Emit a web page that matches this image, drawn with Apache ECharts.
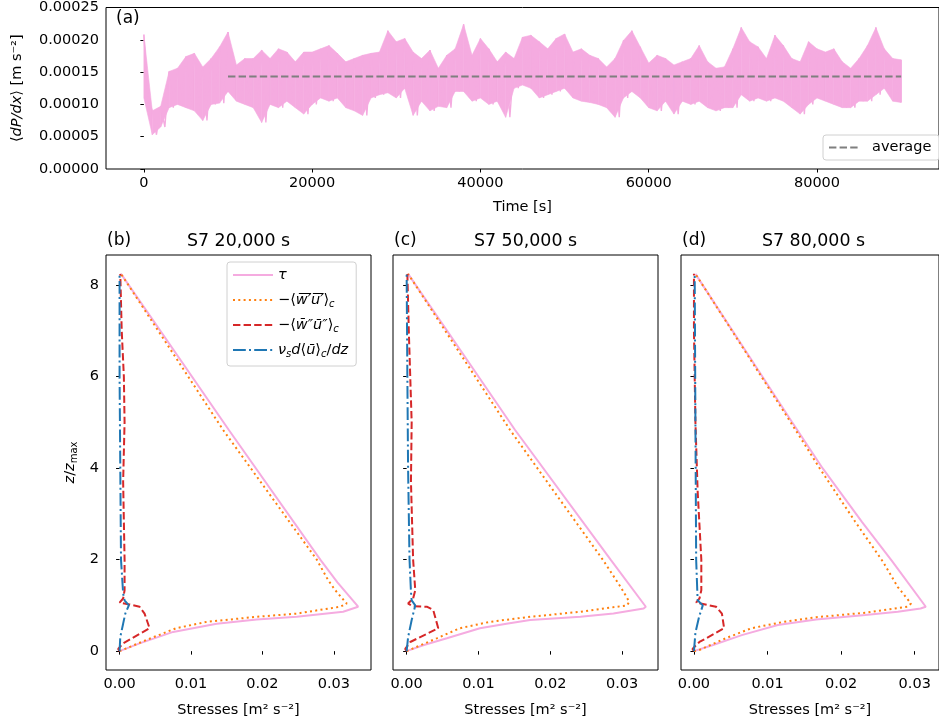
<!DOCTYPE html>
<html>
<head>
<meta charset="utf-8">
<script src="https://cdn.jsdelivr.net/npm/echarts@6/dist/echarts.min.js"></script>
<style>
  html, body { margin: 0; padding: 0; background: #fff; }
  #chart { width: 939px; height: 725px; }
</style>
</head>
<body>
<div id="chart"></div>
<script>
// ---- (a) mean pressure gradient time series -------------------------------
// Envelope of the trace, one upper and one lower value per 1000 s, in 1e-5 m s^-2.
const sampleStep = 1000;
const dpdxHigh = [
  20.8, 9.0, 9.7, 15.1, 15.6, 17.4, 17.9, 15.8, 17.1, 18.9,
  21.2, 16.1, 17.1, 17.1, 18.4, 17.1, 18.6, 18.1, 16.6, 18.1,
  18.1, 18.6, 19.1, 17.9, 16.6, 17.1, 17.6, 17.9, 18.1, 21.4,
  19.7, 20.2, 18.1, 17.1, 18.4, 15.6, 17.6, 18.6, 22.4, 17.6,
  20.2, 18.6, 16.6, 18.1, 17.1, 20.4, 20.7, 19.7, 18.6, 20.2,
  20.9, 18.1, 18.6, 17.6, 17.1, 15.8, 17.1, 19.9, 21.4, 18.9,
  16.4, 17.6, 17.1, 16.1, 16.6, 17.1, 19.1, 16.6, 15.6, 15.8,
  18.6, 21.9, 19.7, 18.9, 17.1, 20.7, 19.1, 17.1, 16.6, 19.7,
  18.6, 18.1, 18.6, 16.6, 15.6, 17.1, 19.1, 21.9, 18.6, 17.1,
  16.9
];
const dpdxLow = [
  11.0, 5.3, 6.5, 9.5, 10.0, 9.5, 9.0, 7.5, 10.0, 10.2,
  12.0, 10.5, 10.0, 9.5, 7.2, 10.0, 9.5, 10.5, 9.5, 8.5,
  10.0, 11.0, 10.5, 11.0, 9.5, 9.0, 8.3, 11.0, 11.5, 11.8,
  11.0, 12.5, 8.3, 10.5, 9.0, 9.7, 9.5, 12.0, 12.0, 10.5,
  11.0, 10.0, 10.5, 8.0, 12.5, 13.0, 12.5, 11.0, 11.5, 12.0,
  12.5, 11.0, 10.5, 10.3, 10.0, 9.5, 8.0, 11.0, 12.0, 11.0,
  9.5, 9.0, 10.5, 8.5, 10.5, 10.0, 10.5, 9.5, 9.0, 9.5,
  9.5, 11.5, 10.5, 11.0, 10.5, 11.0, 10.5, 9.5, 8.5, 10.0,
  11.0, 10.5, 10.0, 9.5, 9.5, 10.5, 10.5, 11.5, 12.5, 10.5,
  10.3
];
const averageSpan = [10000, 90000];
const averageValue = 0.000143;
const timeTicks = [0, 20000, 40000, 60000, 80000];
const dpdxTicks = [0, 0.00005, 0.0001, 0.00015, 0.0002, 0.00025];

// ---- (b)-(d) stress profiles: [stress (m^2 s^-2), z/z_max] ----------------
const tauB = [[0,0],[0.0028,0.17],[0.0075,0.42],[0.0136,0.60],[0.0192,0.69],[0.0248,0.75],[0.0313,0.86],[0.0334,0.97],[0.0305,1.50],[0.0281,2.0],[0.0153,4.83],[0.0002,8.24]];
const fluxB = [[0,0],[0.0037,0.24],[0.0079,0.50],[0.0122,0.64],[0.0192,0.75],[0.0248,0.82],[0.0309,0.97],[0.0318,1.04],[0.0302,1.33],[0.0292,1.55],[0.0276,2.0],[0.0145,4.83],[0.0002,8.24]];
const dispB = [[0,0],[-0.0002,0.05],[0.0005,0.17],[0.0042,0.50],[0.0035,0.82],[0.0028,0.97],[0.0014,1.02],[0,1.06],[0.0005,1.15],[0.0007,1.33],[0.0007,2.0],[0.0005,3.7],[0.0007,5.0],[0.0006,6.0],[0.0003,7.0],[0.0001,8.24]];
const viscB = [[0,0],[0.0001,0.31],[0.0005,0.60],[0.0008,0.82],[0.0013,1.0],[0.0007,1.11],[0.0005,1.26],[0.0002,2.0],[0.0001,4.0],[0,6.0],[0,8.24]];

const tauC = [[0,0],[0.0023,0.13],[0.0056,0.28],[0.0102,0.50],[0.0139,0.60],[0.0172,0.68],[0.0242,0.75],[0.0288,0.82],[0.0330,0.93],[0.0333,0.97],[0.0284,2.0],[0.0151,4.83],[0.0002,8.24]];
const fluxC = [[0,0],[0.0009,0.06],[0.0042,0.28],[0.0074,0.50],[0.0116,0.64],[0.0172,0.75],[0.0242,0.86],[0.0307,1.0],[0.0310,1.08],[0.0298,1.4],[0.0273,2.0],[0.0144,4.83],[0.0002,8.24]];
const dispC = [[0,0],[-0.0002,0.05],[0.0005,0.2],[0.0044,0.5],[0.0037,0.9],[0.0028,0.97],[0.0009,0.98],[0.0002,1.04],[0.0009,1.15],[0.0012,1.33],[0.0009,2.0],[0.0006,3.7],[0.0007,5.0],[0.0005,6.0],[0.0003,7.0],[0.0001,8.24]];
const viscC = [[0,0],[0.0002,0.3],[0.0007,0.68],[0.0012,1.0],[0.0007,1.11],[0.0006,1.3],[0.0004,2.0],[0.0002,4.0],[0.0001,6.0],[0,8.24]];

const tauD = [[0,0],[0.0025,0.13],[0.0065,0.35],[0.0114,0.57],[0.0166,0.69],[0.0233,0.79],[0.0277,0.86],[0.0308,0.93],[0.0315,0.97],[0.0270,1.95],[0.0228,2.83],[0.0175,3.99],[0.0133,5.01],[0.0002,8.24]];
const fluxD = [[0,0],[0.0008,0.03],[0.0043,0.28],[0.0078,0.50],[0.0122,0.64],[0.0166,0.74],[0.0233,0.84],[0.0290,0.97],[0.0295,1.04],[0.0277,1.4],[0.0257,1.95],[0.0219,2.83],[0.0171,3.99],[0.0131,5.01],[0.0002,8.24]];
const dispD = [[0,0],[-0.0002,0.05],[0.00075,0.2],[0.0041,0.5],[0.0038,0.82],[0.0030,0.97],[0.0003,1.06],[0.00075,1.15],[0.0010,1.33],[0.0010,2.0],[0.0005,3.5],[0.0002,5.0],[0,7.0],[0,8.24]];
const viscD = [[0,0],[0.0002,0.4],[0.0007,0.75],[0.0012,1.0],[0.0005,1.11],[0.0003,2.0],[0.0002,5.0],[0.0001,8.24]];

const panelTitles = ['S7 20,000 s', 'S7 50,000 s', 'S7 80,000 s'];
const panelLetters = ['(b)', '(c)', '(d)'];
const stressTicks = [0, 0.01, 0.02, 0.03];
const zTicks = [0, 2, 4, 6, 8];

// ---- styling ---------------------------------------------------------------
const FONT = 'DejaVu Sans';
const PINK = '#f5abe0';
const ORANGE = '#ff7f0e';
const RED = '#d62728';
const BLUE = '#1f77b4';
const GREY = '#7f7f7f';
const TICK_FS = 14.5;

// Jagged trace: upper value at each sample time, lower value half a step later.
const pressureTrace = [];
dpdxHigh.forEach((hi, i) => {
  const t = i * sampleStep;
  pressureTrace.push([t, hi * 1e-5]);
  const tLow = i < dpdxHigh.length - 1 ? t + sampleStep / 2 : t;
  pressureTrace.push([tLow, dpdxLow[i] * 1e-5]);
});
// Filled envelope: one quadrilateral between consecutive samples.
// Each item: [t0, low0, high0, t1, low1, high1]
const envelopeCells = [];
for (let i = 0; i < dpdxHigh.length - 1; i++) {
  envelopeCells.push([
    i * sampleStep, dpdxLow[i] * 1e-5, dpdxHigh[i] * 1e-5,
    (i + 1) * sampleStep, dpdxLow[i + 1] * 1e-5, dpdxHigh[i + 1] * 1e-5
  ]);
}

const subRich = {
  i: { fontStyle: 'italic', fontSize: TICK_FS, fontFamily: FONT, color: '#000', lineHeight: 18 },
  s: { fontStyle: 'italic', fontSize: 10, fontFamily: FONT, color: '#000', lineHeight: 8, verticalAlign: 'bottom' },
  r: { fontSize: 10, fontFamily: FONT, color: '#000', lineHeight: 8, verticalAlign: 'bottom' }
};

const profileNames = ['tau', 'flux', 'disp', 'visc'];
const legendLabels = {
  tau: '{i|τ}',
  flux: '−⟨{i|w\u0305′\u0305u\u0305′\u0305}⟩{s|c}',
  disp: '−⟨{i|w\u0304″\u016B″}⟩{s|c}',
  visc: '{i|ν}{s|s}{i|d}⟨{i|\u016B}⟩{s|c}/{i|dz}'
};
const profileStyles = {
  tau:  { color: PINK,   width: 2,   type: 'solid' },
  flux: { color: ORANGE, width: 2,   type: [2, 3.3] },
  disp: { color: RED,    width: 2,   type: [7.4, 3.2] },
  visc: { color: BLUE,   width: 2,   type: [12.8, 3.2, 2, 3.2] }
};
const panelData = [
  { tau: tauB, flux: fluxB, disp: dispB, visc: viscB },
  { tau: tauC, flux: fluxC, disp: dispC, visc: viscC },
  { tau: tauD, flux: fluxD, disp: dispD, visc: viscD }
];
const panelLeft = [106, 393, 681];
const stressRange = [[-0.0019, 0.0352], [-0.0019, 0.0350], [-0.00176, 0.0333]];

const labelStyle = { color: '#000', fontSize: TICK_FS, fontFamily: FONT };
const tickStyle = (values) => ({ show: true, length: 3.5, lineStyle: { color: '#000', width: 1 }, customValues: values });

const grids = [{ left: 106, top: 5, width: 839, height: 164, show: true, borderColor: '#000', borderWidth: 1, backgroundColor: 'transparent' }];
panelLeft.forEach(l => grids.push({ left: l, top: 255, width: 265, height: 415, show: true, borderColor: '#000', borderWidth: 1, backgroundColor: 'transparent' }));

const xAxes = [{
  gridIndex: 0, type: 'value', min: -4500, max: 94500,
  axisLine: { show: false }, splitLine: { show: false },
  axisTick: tickStyle(timeTicks),
  axisLabel: Object.assign({ customValues: timeTicks, margin: 7, formatter: v => String(v) }, labelStyle),
  name: 'Time [s]', nameLocation: 'middle', nameGap: 31, nameTextStyle: labelStyle
}];
const yAxes = [{
  gridIndex: 0, type: 'value', min: 0, max: 0.00025,
  axisLine: { show: false }, splitLine: { show: false },
  axisTick: tickStyle(dpdxTicks),
  axisLabel: Object.assign({ customValues: dpdxTicks, margin: 7, formatter: v => v.toFixed(5) }, labelStyle),
  name: '⟨{i|dP/dx}⟩ [m s⁻²]', nameLocation: 'middle', nameGap: 80, nameRotate: 90,
  nameTextStyle: Object.assign({ rich: subRich }, labelStyle)
}];
panelLeft.forEach((l, k) => {
  xAxes.push({
    gridIndex: k + 1, type: 'value', min: stressRange[k][0], max: stressRange[k][1],
    axisLine: { show: false }, splitLine: { show: false },
    axisTick: tickStyle(stressTicks),
    axisLabel: Object.assign({ customValues: stressTicks, margin: 7, formatter: v => v.toFixed(2) }, labelStyle),
    name: 'Stresses [m² s⁻²]', nameLocation: 'middle', nameGap: 33, nameTextStyle: labelStyle
  });
  yAxes.push({
    gridIndex: k + 1, type: 'value', min: -0.412, max: 8.652,
    axisLine: { show: false }, splitLine: { show: false },
    axisTick: tickStyle(zTicks),
    axisLabel: Object.assign({ show: k === 0, customValues: zTicks, margin: 7, formatter: v => String(v) }, labelStyle),
    name: k === 0 ? '{i|z}/{i|z}{r|max}' : '', nameLocation: 'middle', nameGap: 27, nameRotate: 90,
    nameTextStyle: Object.assign({ rich: subRich }, labelStyle)
  });
});

const series = [
  {
    name: 'envelope', type: 'custom', xAxisIndex: 0, yAxisIndex: 0, data: envelopeCells,
    encode: { x: [0, 3], y: [1, 2, 4, 5] }, silent: true, z: 1,
    renderItem: (params, api) => {
      const a = api.coord([api.value(0), api.value(1)]);
      const b = api.coord([api.value(0), api.value(2)]);
      const c = api.coord([api.value(3), api.value(5)]);
      const d = api.coord([api.value(3), api.value(4)]);
      return {
        type: 'polygon',
        shape: { points: [a, b, c, d] },
        style: { fill: PINK, stroke: PINK, lineWidth: 0.6 }
      };
    }
  },
  {
    name: 'trace', type: 'line', xAxisIndex: 0, yAxisIndex: 0, data: pressureTrace,
    symbol: 'none', lineStyle: { color: PINK, width: 1.4 }, itemStyle: { color: PINK }, z: 2
  },
  {
    name: 'average', type: 'line', xAxisIndex: 0, yAxisIndex: 0,
    data: [[averageSpan[0], averageValue], [averageSpan[1], averageValue]],
    symbol: 'none', lineStyle: { color: GREY, width: 2, type: [7.4, 3.2] }, itemStyle: { color: GREY }, z: 3
  }
];
panelData.forEach((panel, k) => {
  profileNames.forEach((nm, j) => {
    const st = profileStyles[nm];
    series.push({
      name: nm, type: 'line', xAxisIndex: k + 1, yAxisIndex: k + 1, data: panel[nm],
      symbol: 'none', z: 2 + j,
      lineStyle: { color: st.color, width: st.width, type: st.type, cap: 'butt' },
      itemStyle: { color: st.color }
    });
  });
});

const graphics = [
  { type: 'text', x: 116, y: 19, style: { text: '(a)', font: '17px "DejaVu Sans"', fill: '#000', verticalAlign: 'middle' } }
];
panelLeft.forEach((l, k) => {
  graphics.push({ type: 'text', x: l + 1, y: 241, style: { text: panelLetters[k], font: '17px "DejaVu Sans"', fill: '#000', verticalAlign: 'middle' } });
  graphics.push({ type: 'text', x: l + 132.5, y: 241, style: { text: panelTitles[k], font: '17.4px "DejaVu Sans"', fill: '#000', align: 'center', verticalAlign: 'middle' } });
});

const option = {
  animation: false,
  backgroundColor: '#fff',
  grid: grids,
  xAxis: xAxes,
  yAxis: yAxes,
  series: series,
  graphic: graphics,
  legend: [
    {
      data: ['average'], left: 823, top: 135, orient: 'vertical',
      itemWidth: 30, itemHeight: 14, padding: [5, 8, 5, 5],
      itemStyle: { opacity: 0 },
      borderColor: '#d0d0d0', borderWidth: 1, borderRadius: 3, backgroundColor: 'rgba(255,255,255,0.8)',
      textStyle: { color: '#000', fontSize: TICK_FS, fontFamily: FONT, padding: [0, 0, 0, 8] }
    },
    {
      data: profileNames, left: 227, top: 262, orient: 'vertical',
      itemWidth: 40, itemHeight: 14, itemGap: 7, padding: [4, 8, 7, 5],
      itemStyle: { opacity: 0 },
      borderColor: '#d0d0d0', borderWidth: 1, borderRadius: 3, backgroundColor: 'rgba(255,255,255,0.8)',
      formatter: name => legendLabels[name],
      textStyle: { color: '#000', fontSize: TICK_FS, fontFamily: FONT, lineHeight: 18, rich: subRich }
    }
  ]
};

const chart = echarts.init(document.getElementById('chart'), null, { renderer: 'canvas' });
chart.setOption(option);
</script>
</body>
</html>
